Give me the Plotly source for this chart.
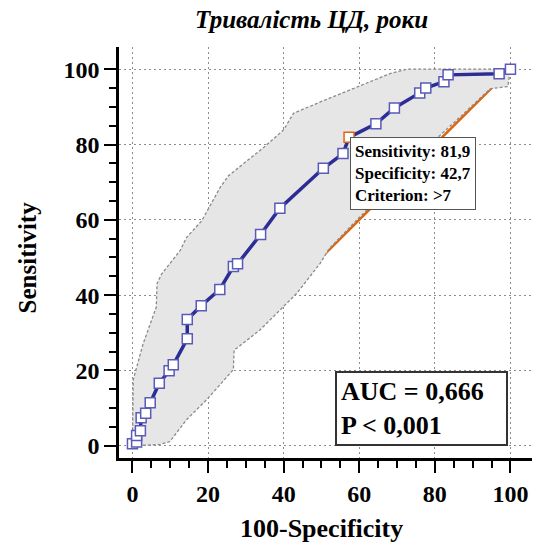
import plotly.graph_objects as go

# ROC curve: x = 100-Specificity, y = Sensitivity
roc_x = [0, 1.1, 1.1, 2.1, 2.3, 3.5, 4.7, 7.1, 9.7, 10.8, 14.5, 14.5, 18.2, 23.1, 26.7, 27.8,
         33.9, 39.0, 50.5, 55.7, 57.3, 64.4, 69.3, 76.0, 77.6, 82.4, 83.5, 97.0, 100]
roc_y = [0.5, 1.0, 2.7, 4.0, 7.4, 8.6, 11.4, 16.6, 19.9, 21.5, 28.4, 33.5, 37.2, 41.5, 47.6, 48.3,
         56.1, 63.1, 73.7, 77.6, 81.9, 85.5, 89.7, 93.7, 95.0, 96.7, 98.5, 98.8, 100]

# 95% confidence bounds
upper_x = [0, 0.2, 2.8, 6.3, 6.5, 7.7, 12.6, 14.3, 18.3, 23.2, 25.4, 34.7, 40.0, 42.6, 49.7, 57.7, 68.3, 72.7, 100]
upper_y = [0, 17.5, 27.0, 36.8, 43.0, 45.6, 51.8, 55.3, 59.7, 68.6, 71.7, 79.2, 83.9, 88.3, 91.3, 94.5, 98.9, 100, 100]
lower_x = [0, 7.2, 9.9, 14.3, 19.6, 23.2, 26.7, 26.9, 27.6, 33.8, 39.1, 43.5, 49.7, 52.0, 60.0, 70.0, 79.8, 87.0, 94.6, 99.3, 100]
lower_y = [0, 0.3, 1.1, 6.9, 12.2, 16.2, 20.2, 25.5, 25.9, 30.8, 36.1, 40.5, 48.5, 52.3, 60.6, 70.6, 81.0, 87.6, 94.8, 95.4, 100]

diag_x = [0, 100]
diag_y = [0, 100]

crit_sens = 81.9
crit_spec = 42.7
crit_label = ">7"
auc_text = "AUC = 0,666"
p_text = "P < 0,001"

major_ticks = [0, 20, 40, 60, 80, 100]
minor_ticks = [5, 10, 15, 25, 30, 35, 45, 50, 55, 65, 70, 75, 85, 90, 95]

FONT = "Liberation Serif, Times New Roman, serif"

band_x = upper_x + lower_x[::-1]
band_y = upper_y + lower_y[::-1]

fig = go.Figure()
fig.add_trace(go.Scatter(x=diag_x, y=diag_y, mode="lines",
                         line=dict(color="#e0650f", width=2.5), hoverinfo="skip"))
fig.add_trace(go.Scatter(x=band_x, y=band_y, mode="lines", fill="toself",
                         fillcolor="#e6e6e6",
                         line=dict(color="#8a8a8a", width=1.3, dash="3px,2px"), hoverinfo="skip"))

crit_x = round(100 - crit_spec, 1)
line_cols = ["#e0650f" if (abs(x - crit_x) < 0.05 and abs(y - crit_sens) < 0.05) else "#5a5ab8"
             for x, y in zip(roc_x, roc_y)]
fig.add_trace(go.Scatter(x=roc_x, y=roc_y, mode="lines+markers",
                         line=dict(color="#2c2c96", width=3.5),
                         marker=dict(symbol="square", size=10, color="white",
                                     line=dict(color=line_cols, width=1.5))))

axis_common = dict(
    showline=True, linewidth=2.5, linecolor="black",
    ticks="outside", ticklen=12, tickwidth=2, tickcolor="black",
    tickvals=major_ticks,
    tickfont=dict(family=FONT, size=24, color="black", weight="bold"),
    showgrid=True, gridcolor="#8c8c8c", gridwidth=1, griddash="2px,3px",
    zeroline=False, mirror=False,
    minor=dict(tickmode="array", tickvals=minor_ticks, ticks="outside", ticklen=7,
               tickwidth=1.5, tickcolor="black", showgrid=False),
)

fig.update_xaxes(range=[-3.56, 105.7], **axis_common)
fig.update_yaxes(range=[-3.27, 105.9], **axis_common)

annotations = [
    dict(text="<b><i>Тривалість ЦД, роки</i></b>", xref="paper", yref="paper",
         x=0.466, y=1, yshift=28, yanchor="middle", showarrow=False,
         font=dict(family=FONT, size=25, color="black")),
    dict(text="<b>100-Specificity</b>", xref="x", yref="paper", x=50, y=0, yshift=-70,
         yanchor="middle", showarrow=False, font=dict(family=FONT, size=26, color="black")),
    dict(text="<b>Sensitivity</b>", xref="paper", yref="y", x=0, y=50, xshift=-92,
         xanchor="center", yanchor="middle", textangle=-90, showarrow=False,
         font=dict(family=FONT, size=25, color="black")),
    dict(text=f"<b>Sensitivity: {crit_sens:.1f}<br>Specificity: {crit_spec:.1f}<br>Criterion: {crit_label}</b>".replace(".", ","),
         xref="x", yref="y", x=crit_x, y=crit_sens, xanchor="left", yanchor="top",
         xshift=1, yshift=0, align="left", showarrow=False,
         bgcolor="white", bordercolor="#555555", borderwidth=1, borderpad=4,
         font=dict(family=FONT, size=17, color="black")),
    dict(text=f"<b>{auc_text}<br>{p_text}</b>", xref="paper", yref="paper",
         x=(335 - 119.3) / 412.4, y=(458.3 - 371.7) / 411.3, xanchor="left", yanchor="top",
         align="left", showarrow=False, width=161, height=63,
         bgcolor="white", bordercolor="#333333", borderwidth=2, borderpad=4,
         font=dict(family=FONT, size=26, color="black")),
]

fig.update_layout(
    width=535, height=547,
    margin=dict(l=119, r=3, t=47, b=89),
    plot_bgcolor="white", paper_bgcolor="white",
    showlegend=False,
    annotations=annotations,
)

fig.write_html("out.html")
